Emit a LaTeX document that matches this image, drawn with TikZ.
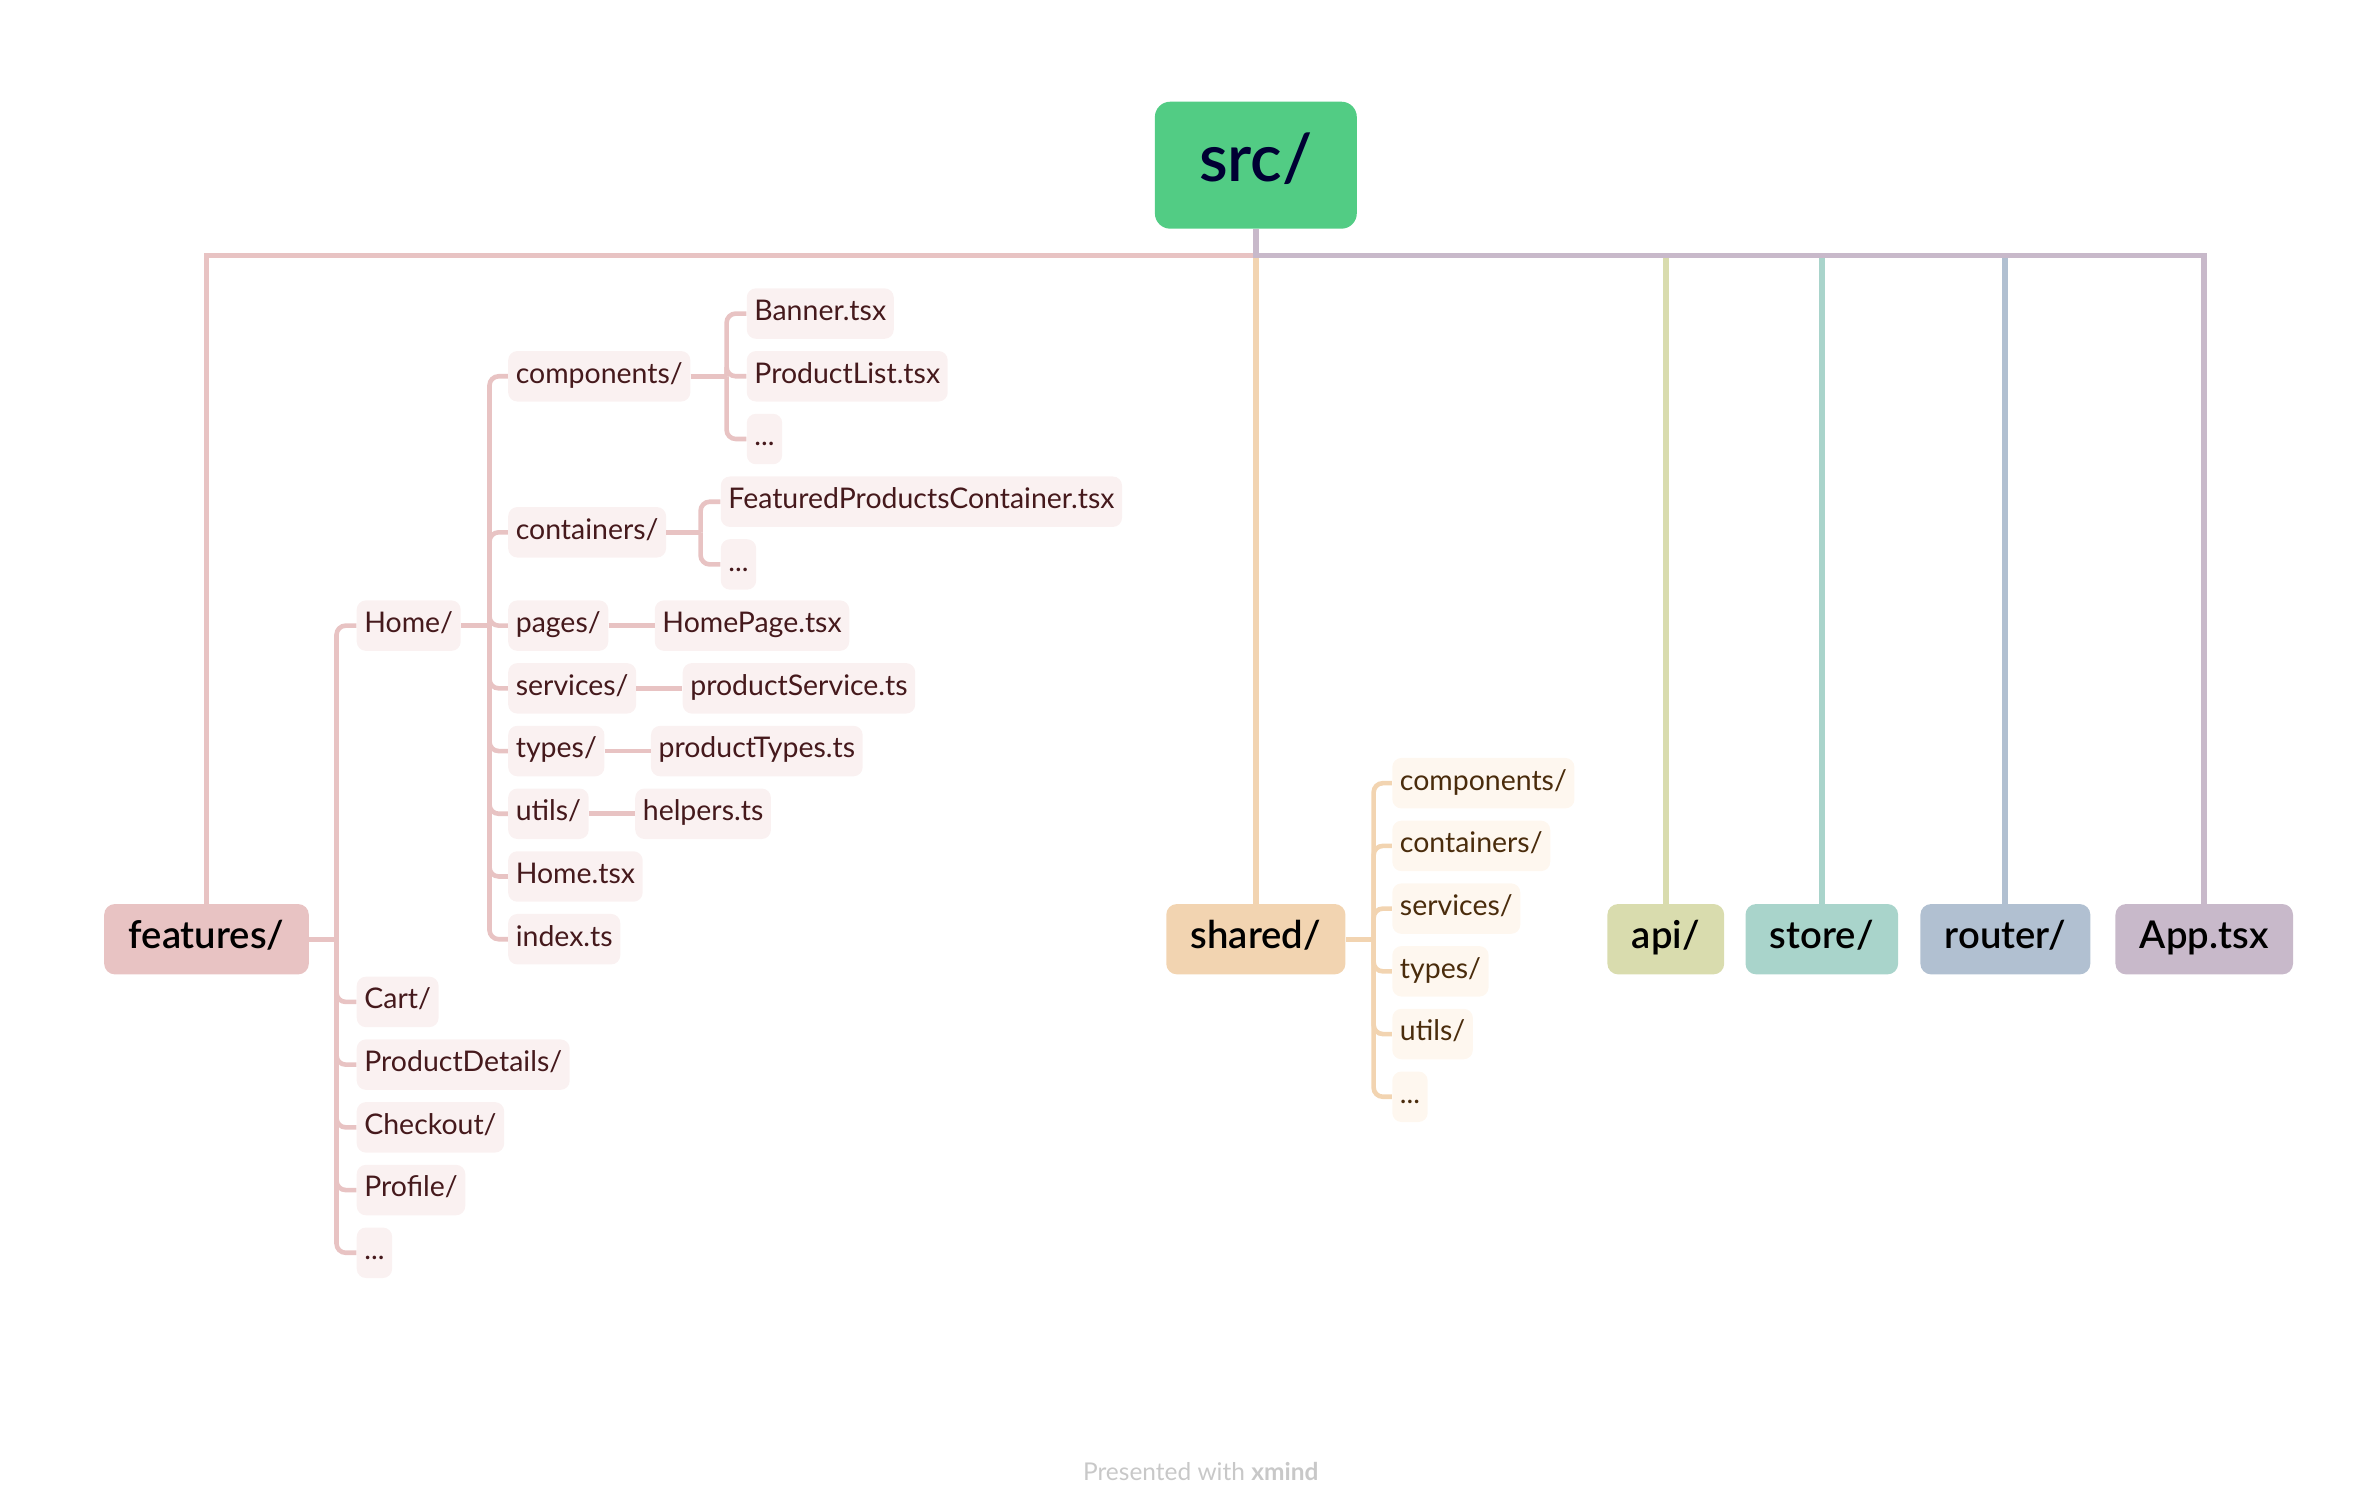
\documentclass[tikz,border=0pt]{standalone}
\usepackage{fontspec}
\setmainfont{Lato}
\newfontfamily\topicfont{Lato Semibold}
\usepackage{tikz}
\usetikzlibrary{positioning}
\definecolor{srcg}{HTML}{52CC84}
\definecolor{fpink}{HTML}{E8C3C3}
\definecolor{fsub}{HTML}{FAF1F1}
\definecolor{ftxt}{HTML}{45191C}
\definecolor{sorange}{HTML}{F2D4B1}
\definecolor{ssub}{HTML}{FEF7EF}
\definecolor{stxt}{HTML}{4A2C0C}
\definecolor{apig}{HTML}{D9DCAE}
\definecolor{storeg}{HTML}{A9D4CB}
\definecolor{routerb}{HTML}{B1C0D1}
\definecolor{appp}{HTML}{C8B9CA}
\definecolor{wm}{HTML}{C8C8C8}

\begin{document}
\begin{tikzpicture}[x=1pt,y=-1pt,
font=\fontsize{18.6}{22}\selectfont,
t/.style={
rounded corners=7pt,
minimum height=46pt,
inner xsep=16pt,
text height=17pt,
text depth=5pt,
font=\topicfont\fontsize{25}{30}\selectfont,
text=black},
s/.style={
anchor=west,
rounded corners=6pt,
minimum height=33pt,
inner xsep=5pt,
inner ysep=0pt,
text height=13pt,
text depth=4pt},
fs/.style={s,fill=fsub,text=ftxt},
ss/.style={s,fill=ssub,text=stxt},
m/.style={line width=3.8pt},
fl/.style={draw=fpink,line width=3pt,rounded corners=6pt},
sl/.style={draw=sorange,line width=3pt,rounded corners=6pt},
]
\useasboundingbox(0,0)rectangle(1552,984.5);
%Root
\node[t,fill=srcg,text=black!80!blue,minimum width=132pt,minimum height=83pt,
rounded corners=10pt,text height=29pt,text depth=8pt,
font=\topicfont\fontsize{43}{48}\selectfont](src)at(821,108){src/};
%% Main topics
\node[t,fill=fpink](features)at(135,614){features/};
\node[t,fill=sorange](shared)at(821,614){shared/};
\node[t,fill=apig](api)at(1089,614){api/};
\node[t,fill=storeg](store)at(1191,614){store/};
\node[t,fill=routerb](router)at(1311,614){router/};
\node[t,fill=appp](app)at(1441,614){App.tsx};
\coordinate(bar)at(821,167);
\draw[m,draw=fpink](src.south)--(bar)-|(features.north);
\draw[m,draw=sorange](src.south)--(bar)-|(shared.north);
\draw[m,draw=apig](src.south)--(bar)-|(api.north);
\draw[m,draw=storeg](src.south)--(bar)-|(store.north);
\draw[m,draw=routerb](src.south)--(bar)-|(router.north);
\draw[m,draw=appp](src.south)--(bar)-|(app.north);
%features
\node[fs](home)at(233,409){Home/};
\node[fs](cart)at(233,655){Cart/};
\node[fs](pdet)at(233,696){ProductDetails/};
\node[fs](chk)at(233,737){Checkout/};
\node[fs](prof)at(233,778){Profile/};
\node[fs](fdots)at(233,819){...};
\coordinate(fb)at(220,614);
\draw[fl](features.east)--(fb);
\foreach \c in {home,cart,pdet,chk,prof,fdots}
\draw[fl](fb)|-(\c.west);
%%Home
\node[fs](comp)at(332,246){components/};
\node[fs](cont)at(332,348){containers/};
\node[fs](pages)at(332,409){pages/};
\node[fs](serv)at(332,450){services/};
\node[fs](types)at(332,491){types/};
\node[fs](utils)at(332,532){utils/};
\node[fs](hometsx)at(332,573){Home.tsx};
\node[fs](index)at(332,614){index.ts};
\coordinate(hb)at(320,409);
\draw[fl](home.east)--(hb);
\foreach \c in {comp,cont,pages,serv,types,utils,hometsx,index}
\draw[fl](hb)|-(\c.west);
%%%components
\node[fs](banner)at(488,205){Banner.tsx};
\node[fs](plist)at(488,246){ProductList.tsx};
\node[fs](cdots)at(488,287){...};
\coordinate(cb)at(475,246);
\draw[fl](comp.east)--(cb);
\foreach \c in {banner,plist,cdots}
\draw[fl](cb)|-(\c.west);
%%%containers
\node[fs](fpc)at(471,328){FeaturedProductsContainer.tsx};
\node[fs](kdots)at(471,369){...};
\coordinate(kb)at(458,348);
\draw[fl](cont.east)--(kb);
\foreach \c in {fpc,kdots}
\draw[fl](kb)|-(\c.west);
%%%leaves
\node[fs,right=30pt of pages](homepage){HomePage.tsx};
\node[fs,right=30pt of serv](psvc){productService.ts};
\node[fs,right=30pt of types](ptypes){productTypes.ts};
\node[fs,right=30pt of utils](helpers){helpers.ts};
\draw[fl](pages)--(homepage);
\draw[fl](serv)--(psvc);
\draw[fl](types)--(ptypes);
\draw[fl](utils)--(helpers);
%shared
\node[ss](scomp)at(910,512){components/};
\node[ss](scont)at(910,553){containers/};
\node[ss](sserv)at(910,594){services/};
\node[ss](stypes)at(910,635){types/};
\node[ss](sutils)at(910,676){utils/};
\node[ss](sdots)at(910,717){...};
\coordinate(sb)at(898,614);
\draw[sl](shared.east)--(sb);
\foreach \c in {scomp,scont,sserv,stypes,sutils,sdots}
\draw[sl](sb)|-(\c.west);
%watermark
\node[text=wm,font=\fontsize{16}{20}\selectfont](mark)at(785,962){Presented with \textbf{xmind}};
\end{tikzpicture}
\end{document}
